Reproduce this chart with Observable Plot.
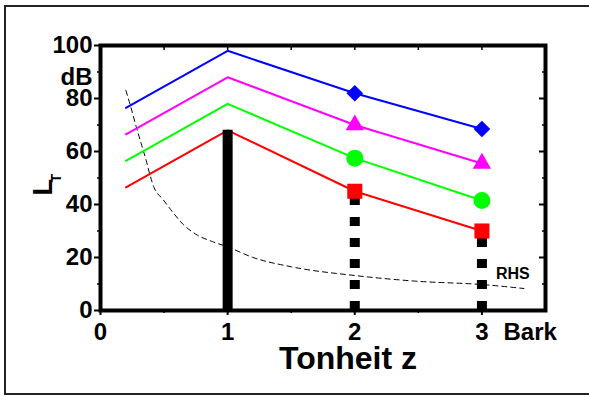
<!DOCTYPE html>
<html><head><meta charset="utf-8">
<script src="https://cdn.jsdelivr.net/npm/d3@7"></script>
<script src="https://cdn.jsdelivr.net/npm/@observablehq/plot@0.6"></script>
<style>
body{margin:0;background:#fff;width:589px;height:396px;overflow:hidden;position:relative;font-family:"Liberation Sans",Arial,sans-serif;}
#border{position:absolute;left:4px;top:5px;width:600px;height:386px;border:2px solid #222;}
#chart{position:absolute;left:0;top:0;}
</style></head><body>
<div id="border"></div><div id="chart"></div>
<script>
// --- data ---
const z = [0.2, 1, 2, 3];
const redL = [46.5, 68, 45, 30];
const greenL = [56.5, 78, 57.5, 41.5];
const magentaL = [66.5, 88, 70, 55.5];
const blueL = [76.5, 98, 82, 68.5];
const toneZ = [1, 2, 3];
const toneL = [68, 45, 30];
const thrZ = [0.2, 0.24, 0.28, 0.32, 0.36, 0.39, 0.42, 0.49, 0.57, 0.65, 0.76, 0.88, 1.0, 1.2, 1.5, 2.0, 2.5, 3.0, 3.33];
const thrL = [83, 76.5, 69.5, 63, 56.5, 51, 46.5, 42, 37, 32.5, 28.5, 26, 24, 20, 16.5, 13.2, 11, 9.8, 8.3];
const yTicks = [0, 20, 40, 60, 80, 100];
const yMinor = [10, 30, 50, 70, 90];
const xTicks = [0, 1, 2, 3];
const xMinor = [0.5, 1.5, 2.5];
const xUnit = "Bark";
const yUnit = "dB";
const xLabel = "Tonheit z";
const yLabelMain = "L";
const yLabelSub = "T";
const curveLabel = "RHS";

// --- styles ---
const series = [
  {vals: redL, color: "#ff0000", symbol: "square", r: 8.5},
  {vals: greenL, color: "#00ff00", symbol: "circle", r: 8.5},
  {vals: magentaL, color: "#ff00ff", symbol: "triangle", r: 6.8},
  {vals: blueL, color: "#0000ff", symbol: "diamond2", r: 7.5}
];
const rows = s => z.map((v, i) => ({z: v, l: s.vals[i]}));
const thr = thrZ.map((v, i) => ({z: v, l: thrL[i]}));
const tones = toneZ.map((v, i) => ({z: v, l: toneL[i]}));
const bold = {fontWeight: "bold"};
const fmt = d => String(d);
const blank = () => "";

const plot = Plot.plot({
  width: 589, height: 396,
  marginLeft: 100, marginRight: 44, marginTop: 45, marginBottom: 86,
  style: {fontFamily: "'Liberation Sans', Arial, sans-serif", fontSize: "24px", fontWeight: "bold", color: "black", background: "transparent"},
  x: {domain: [0, 3.5], label: null},
  y: {domain: [0, 100], label: null},
  marks: [
    Plot.line(thr, {x: "z", y: "l", stroke: "black", strokeWidth: 1, strokeDasharray: "5,4", curve: "monotone-x"}),
    ...series.map(s => Plot.line(rows(s), {x: "z", y: "l", stroke: s.color, strokeWidth: 2})),
    Plot.ruleX(tones.slice(0, 1), {x: "z", y1: 0, y2: "l", stroke: "black", strokeWidth: 10}),
    Plot.ruleX(tones.slice(1), {x: "z", y1: 0, y2: "l", stroke: "black", strokeWidth: 10, strokeDasharray: "9,12"}),
    ...series.map(s => Plot.dot(rows(s).slice(2), {x: "z", y: "l", fill: s.color, stroke: "none", symbol: s.symbol, r: s.r})),
    Plot.frame({stroke: "black", strokeWidth: 4}),
    Plot.axisY({ticks: yTicks, tickSize: 6, tickPadding: 2, strokeWidth: 2, tickFormat: fmt, fontSize: 24, fontWeight: "bold", label: null}),
    Plot.axisY({ticks: yMinor, tickSize: 3, strokeWidth: 1.5, tickFormat: blank, label: null}),
    Plot.axisY({anchor: "right", ticks: yTicks, tickSize: -7, strokeWidth: 2, tickFormat: blank, label: null}),
    Plot.axisY({anchor: "right", ticks: yMinor, tickSize: -4, strokeWidth: 1.5, tickFormat: blank, label: null}),
    Plot.axisX({ticks: xTicks, tickSize: 5, tickPadding: 7, strokeWidth: 2, tickFormat: fmt, fontSize: 24, fontWeight: "bold", label: null}),
    Plot.axisX({ticks: xMinor, tickSize: 3, strokeWidth: 1.5, tickFormat: blank, label: null}),
    Plot.axisX({anchor: "top", ticks: [...xMinor, ...xTicks.slice(1)], tickSize: -4, strokeWidth: 1.5, tickFormat: blank, label: null}),
    Plot.text([yUnit], {text: d => d, y: 88, frameAnchor: "left", textAnchor: "end", dx: -8, fontSize: 24, ...bold}),
    Plot.text([xUnit], {text: d => d, x: 3.17, frameAnchor: "bottom", textAnchor: "start", lineAnchor: "top", dy: 12, fontSize: 24, ...bold}),
    Plot.text([xLabel], {text: d => d, frameAnchor: "bottom", dx: 25, dy: 48.5, lineAnchor: "middle", fontSize: 32, ...bold}),
    Plot.text([yLabelMain], {text: d => d, frameAnchor: "left", rotate: -90, dx: -57, dy: 17.5, lineAnchor: "middle", fontSize: 27, ...bold}),
    Plot.text([yLabelSub], {text: d => d, frameAnchor: "left", rotate: -90, dx: -44, dy: 4.5, lineAnchor: "middle", fontSize: 14, ...bold}),
    Plot.text([curveLabel], {text: d => d, x: 3.11, y: 14, textAnchor: "start", lineAnchor: "middle", fontSize: 16, ...bold})
  ]
});
document.getElementById("chart").appendChild(plot);
</script>
</body></html>
